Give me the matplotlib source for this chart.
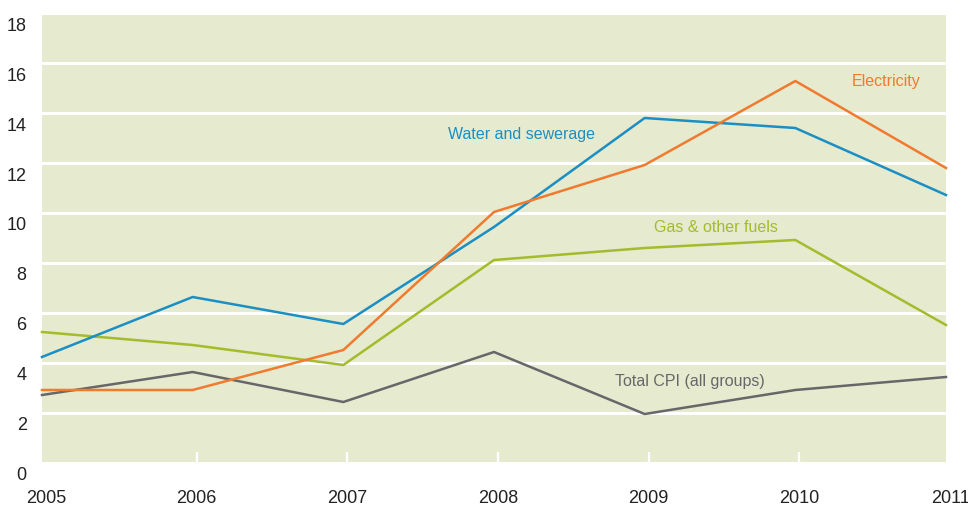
import matplotlib; matplotlib.use("Agg")
import matplotlib.pyplot as plt
import matplotlib.transforms as mtransforms
from matplotlib import font_manager as fm

years = [2005, 2006, 2007, 2008, 2009, 2010, 2011]
water = [4.24, 6.64, 5.56, 9.44, 13.8, 13.4, 10.72]
electricity = [2.92, 2.92, 4.52, 10.04, 11.92, 15.28, 11.8]
gas = [5.24, 4.72, 3.92, 8.12, 8.6, 8.92, 5.52]
cpi = [2.72, 3.64, 2.44, 4.44, 1.96, 2.92, 3.44]
yticks = [0, 2, 4, 6, 8, 10, 12, 14, 16, 18]

names = {f.name for f in fm.fontManager.ttflist}
fam = "Liberation Sans Narrow" if "Liberation Sans Narrow" in names else "Liberation Sans"
plt.rcParams["font.family"] = [fam, "DejaVu Sans"]

BLUE, ORANGE, GREEN, GREY = "#1b8fc3", "#f07a2e", "#a3bc2c", "#67676a"
BG = "#e6eacf"

fig = plt.figure(figsize=(9.68, 5.06), dpi=100)
ax = fig.add_axes([42/968, 42/506, 904/968, 450/506])
ax.set_facecolor(BG)
for s in ax.spines.values(): s.set_visible(False)

for ys, c in [(cpi, GREY), (gas, GREEN), (water, BLUE), (electricity, ORANGE)]:
    ax.plot(years, ys, color=c, lw=1.8, clip_on=False, zorder=3)

ax.set_xlim(2005, 2011); ax.set_ylim(0, 18)
ax.set_yticks(yticks)
ax.grid(axis="y", color="white", lw=2.2, zorder=1)
ax.set_axisbelow(True)
ax.tick_params(axis="y", length=0, pad=11, labelsize=13, labelcolor="#222222")
ax.set_xticks(years)
ax.tick_params(axis="x", direction="in", length=8, width=1.6, color="white", pad=19,
               labelsize=13, labelcolor="#222222")
off = mtransforms.ScaledTranslation(0, -0.10, fig.dpi_scale_trans)
for lb in ax.get_yticklabels():
    lb.set_transform(lb.get_transform() + off)
xoff = mtransforms.ScaledTranslation(0.04, 0, fig.dpi_scale_trans)
xticks = ax.xaxis.get_major_ticks()
for t in xticks:
    t.tick1line.set_zorder(2)
    t.tick1line.set_transform(t.tick1line.get_transform() + xoff)
    t.label1.set_transform(t.label1.get_transform() + xoff)
xticks[0].tick1line.set_visible(False)
xticks[-1].tick1line.set_visible(False)

lab = dict(fontsize=11.5, ha="center", va="center")
ax.text(2008.18, 13.2, "Water and sewerage", color=BLUE, **lab)
ax.text(2010.6, 15.3, "Electricity", color=ORANGE, **lab)
ax.text(2009.47, 9.45, "Gas & other fuels", color=GREEN, **lab)
ax.text(2009.3, 3.3, "Total CPI (all groups)", color=GREY, **lab)

fig.savefig("out.png", dpi=100)
